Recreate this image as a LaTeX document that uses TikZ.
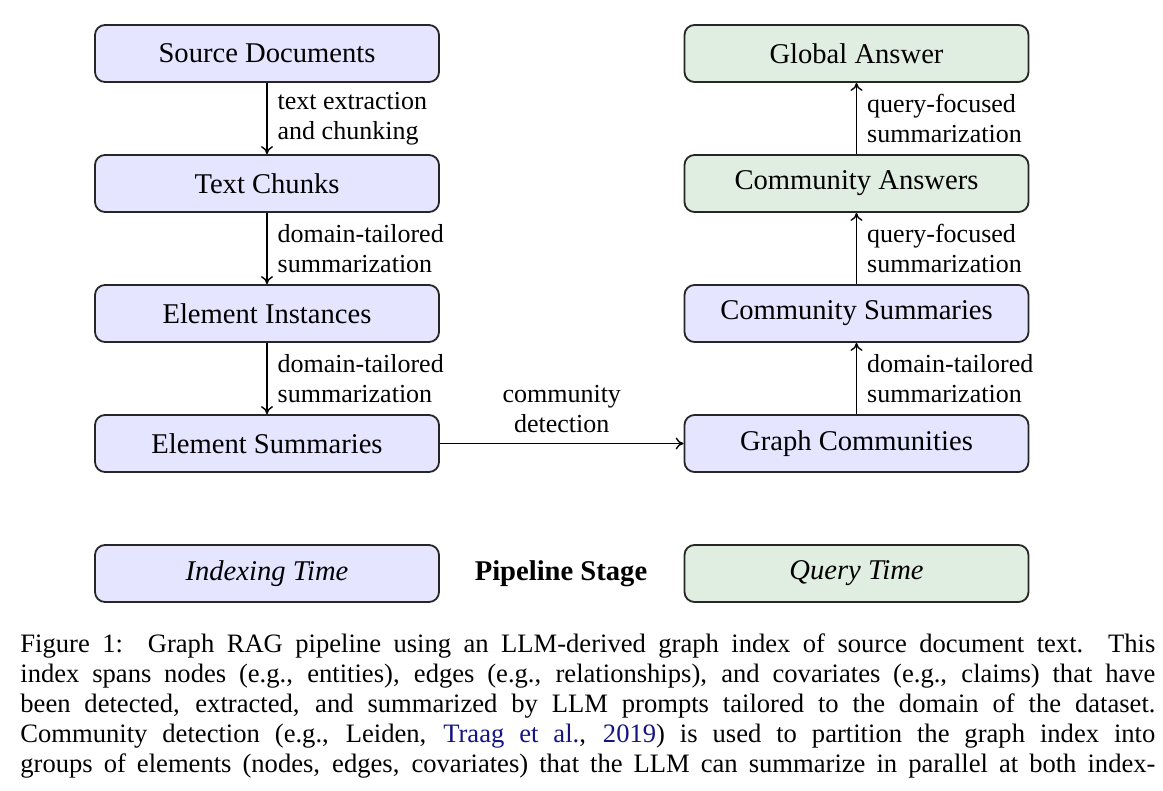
\documentclass[tikz,border=0pt]{standalone}
\usepackage{fontspec}
\setmainfont{Liberation Serif}
\usepackage{xcolor}
\usetikzlibrary{arrows.meta}
\definecolor{idxfill}{RGB}{229,229,255}
\definecolor{qryfill}{RGB}{224,238,225}
\definecolor{citeblue}{RGB}{20,20,130}
\begin{document}
\begin{tikzpicture}[x=0.5pt,y=-0.5pt,
  stage/.style={draw=black!85, line width=0.9pt, rounded corners=5pt,
    minimum width=172pt, minimum height=28.5pt, inner sep=0pt,
    font=\fontsize{14.3}{16}\selectfont},
  idx/.style={stage, fill=idxfill},
  qry/.style={stage, fill=qryfill},
  conn/.style={-{To[length=4pt,width=6pt]}, line width=0.7pt},
  lbl/.style={font=\fontsize{13}{15}\selectfont, align=left, inner sep=0pt, anchor=west}
]
\useasboundingbox (0,0) rectangle (1163,791);
% left column
\node[idx] (src) at (267,53.5) {Source Documents};
\node[idx] (chk) at (267,183.5) {Text Chunks};
\node[idx] (ein) at (267,313.5) {Element Instances};
\node[idx] (esu) at (267,443.5) {Element Summaries};
% right column
\node[qry] (gla) at (856.5,53.5) {Global Answer};
\node[qry] (coa) at (856.5,183.5) {Community Answers};
\node[idx] (cos) at (856.5,313.5) {Community Summaries};
\node[idx] (gco) at (856.5,443.5) {Graph Communities};
% legend
\node[idx] (lidx) at (267,573.5) {\itshape Indexing Time};
\node[font=\bfseries\fontsize{14.3}{16}\selectfont] (lps) at (561,573.5) {Pipeline Stage};
\node[qry] (lqry) at (856.5,573.5) {\itshape Query Time};
% connectors
\draw[conn] (src) -- node[lbl, xshift=5pt] {text extraction\\and chunking} (chk);
\draw[conn] (chk) -- node[lbl, xshift=5pt] {domain-tailored\\summarization} (ein);
\draw[conn] (ein) -- node[lbl, xshift=5pt] {domain-tailored\\summarization} (esu);
\draw[conn] (esu) -- node[font=\fontsize{13}{15}\selectfont, align=center, inner sep=0pt, above=5pt] {community\\detection} (gco);
\draw[conn] (gco) -- node[lbl, xshift=5pt] {domain-tailored\\summarization} (cos);
\draw[conn] (cos) -- node[lbl, xshift=5pt] {query-focused\\summarization} (coa);
\draw[conn] (coa) -- node[lbl, xshift=5pt] {query-focused\\summarization} (gla);
% caption
\node[anchor=north west, inner sep=0pt, text width=567.5pt, align=justify,
  font=\fontsize{13.3}{15}\selectfont] (cap) at (20,633)
{\parfillskip=0pt Figure 1:\ \ Graph RAG pipeline using an LLM-derived graph index of source document text.\ \ This\linebreak
index spans nodes (e.g., entities), edges (e.g., relationships), and covariates (e.g., claims) that have\linebreak
been detected, extracted, and summarized by LLM prompts tailored to the domain of the dataset.\linebreak
Community detection (e.g., Leiden, \textcolor{citeblue}{Traag et al.}, \textcolor{citeblue}{2019}) is used to partition the graph index into\linebreak
groups of elements (nodes, edges, covariates) that the LLM can summarize in parallel at both index-\par};
\end{tikzpicture}
\end{document}
